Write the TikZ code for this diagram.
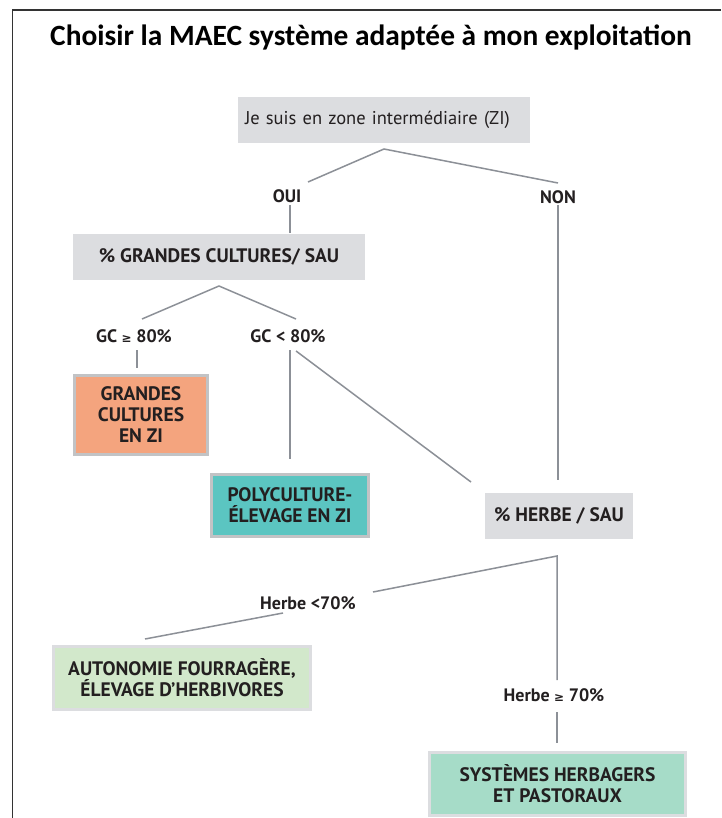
\documentclass[tikz,border=0pt]{standalone}
\usepackage{fontspec}
\setmainfont{PT Sans}
\newfontfamily\titlefont{Carlito}
\newfontfamily\symfont{DejaVu Sans}
\definecolor{boxgray}{HTML}{DCDDE0}
\definecolor{orangebox}{HTML}{F4A47E}
\definecolor{tealbox}{HTML}{5BC5C1}
\definecolor{greenbox}{HTML}{D2E8CB}
\definecolor{mintbox}{HTML}{A6DCC8}
\definecolor{edgegray}{HTML}{C2C3C5}
\definecolor{linegray}{HTML}{8C9097}
\definecolor{ink}{HTML}{231F20}
\newcommand{\gesym}{{\symfont\fontsize{12}{12}\selectfont ≥}}
\begin{document}
\begin{tikzpicture}[x=1pt,y=-1pt,
  graybox/.style={fill=boxgray,draw=none,text=ink,inner sep=0pt,align=center,font=\bfseries\fontsize{19.5}{21}\selectfont},
  colbox/.style={draw=edgegray,line width=3pt,text=ink,inner sep=0pt,align=center,font=\bfseries\fontsize{19.5}{21}\selectfont},
  cond/.style={text=ink,inner sep=1pt,font=\bfseries\fontsize{18}{21}\selectfont},
  conn/.style={draw=linegray,line width=1.5pt}]
\useasboundingbox (0,0) rectangle (721,818);
\fill[white] (0,0) rectangle (721,818);
% frame
\draw[line width=1.5pt,color=black!80] (12.5,818) -- (12.5,10) -- (721,10);
% title
\node[font=\titlefont\bfseries\fontsize{29.4}{33}\selectfont,text=black] (title) at (371,37) {Choisir la MAEC système adaptée à mon exploitation};
% nodes
\node[graybox,font=\fontsize{18.5}{21}\selectfont,minimum width=292pt,minimum height=46pt,text width=278pt,align=left] (zi) at (384,120) {Je suis en zone intermédiaire (ZI)};
\node[cond] (oui) at (287,196) {OUI};
\node[cond] (non) at (558,197) {NON};
\node[graybox,minimum width=292pt,minimum height=46pt] (gc) at (219,257) {\% GRANDES CULTURES/ SAU};
\node[cond] (ge80) at (134,336) {GC \gesym\ 80\%};
\node[cond] (lt80) at (288,336) {GC < 80\%};
\node[colbox,fill=orangebox,minimum width=133pt,minimum height=79pt] (gczi) at (141,415) {GRANDES\\CULTURES\\EN ZI};
\node[colbox,fill=tealbox,minimum width=157pt,minimum height=62pt] (poly) at (290,505.5) {POLYCULTURE-\\ÉLEVAGE EN ZI};
\node[graybox,minimum width=148pt,minimum height=46pt] (herbe) at (559,516) {\% HERBE / SAU};
\node[cond] (hlt) at (308,603) {Herbe <70\%};
\node[cond] (hge) at (554,695) {Herbe \gesym\ 70\%};
\node[colbox,fill=greenbox,draw=boxgray,minimum width=257pt,minimum height=63pt] (auto) at (182,678) {AUTONOMIE FOURRAGÈRE,\\ÉLEVAGE D’HERBIVORES};
\node[colbox,fill=mintbox,draw=boxgray,minimum width=256pt,minimum height=63pt] (sys) at (557.5,784) {SYSTÈMES HERBAGERS\\ET PASTORAUX};
% junction coordinates
\coordinate (j1) at (384,149);
\coordinate (j1a) at (308,182);
\coordinate (j1b) at (558,183);
\coordinate (j2) at (219,286);
\coordinate (j2a) at (142,319);
\coordinate (j2b) at (296,319);
\coordinate (j3) at (557,556);
\coordinate (j3a) at (373,592);
\coordinate (j3b) at (283,613);
\coordinate (j3c) at (145,639);
% connectors
\draw[conn] (j1a) -- (j1) -- (j1b);
\draw[conn] (290,205) -- (290,233);
\draw[conn] (558,205) -- (558,480);
\draw[conn] (j2a) -- (j2) -- (j2b);
\draw[conn] (137,350) -- (137,368);
\draw[conn] (290,350) -- (290,459);
\draw[conn] (296,351) -- (471,482);
\draw[conn] (j3a) -- (j3) -- (557,680);
\draw[conn] (j3b) -- (j3c);
\draw[conn] (557,712) -- (557,743);
\end{tikzpicture}
\end{document}
